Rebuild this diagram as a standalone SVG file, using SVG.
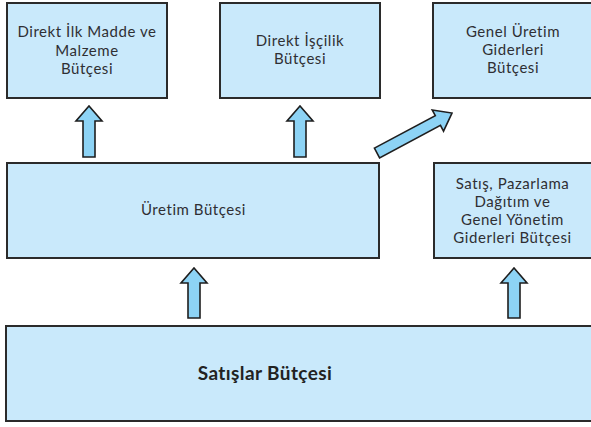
<svg xmlns="http://www.w3.org/2000/svg" width="591" height="427" viewBox="0 0 591 427">
<style>
.box{fill:#c9e9fb;stroke:#2b2b2b;stroke-width:2}
.arr{fill:#8dd3f5;stroke:#1e1e1e;stroke-width:1.6;stroke-linejoin:miter}
text{font-family:Lato,"Open Sans","DejaVu Sans",sans-serif;font-size:15px;letter-spacing:0.55px;fill:#2f2f33;text-anchor:middle}
.big{font-size:19px;font-weight:bold;letter-spacing:0.4px;fill:#222}
</style>
<rect width="591" height="427" fill="#fff"/>
<g id="connectors">
<polygon class="arr" points="83,157 83,121 76,121 89,106 102,121 95,121 95,157"/>
<polygon class="arr" points="294,157 294,121 287,121 300,106 313,121 306,121 306,157"/>
<polygon class="arr" points="188,318 188,283 181,283 194,268 207,283 200,283 200,318"/>
<polygon class="arr" points="508,318 508,283 501,283 514,268 527,283 520,283 520,318"/>
<polygon class="arr" transform="translate(377,153) rotate(-28.07)" points="0,-5.5 69,-5.5 69,-12 85,0 69,12 69,5.5 0,5.5"/>
</g>
<g id="n1"><rect class="box" x="7" y="3" width="160" height="95"/>
<text x="87" y="37">Direkt İlk Madde ve</text><text x="87" y="56">Malzeme</text><text x="87" y="74">Bütçesi</text></g>
<g id="n2"><rect class="box" x="220" y="3" width="160" height="95"/>
<text x="300" y="46">Direkt İşçilik</text><text x="300" y="63.5">Bütçesi</text></g>
<g id="n3"><rect class="box" x="433" y="3" width="170" height="95"/>
<text x="513" y="37">Genel Üretim</text><text x="513" y="55">Giderleri</text><text x="513" y="73">Bütçesi</text></g>
<g id="n4"><rect class="box" x="7" y="163" width="372" height="95"/>
<text x="193.5" y="215">Üretim Bütçesi</text></g>
<g id="n5"><rect class="box" x="434" y="163" width="170" height="95"/>
<text x="512.5" y="189">Satış, Pazarlama</text><text x="512.5" y="207">Dağıtım ve</text><text x="512.5" y="225">Genel Yönetim</text><text x="512.5" y="243">Giderleri Bütçesi</text></g>
<g id="n6"><rect class="box" x="6" y="326" width="600" height="95"/>
<text class="big" x="265" y="380">Satışlar Bütçesi</text></g>
</svg>
